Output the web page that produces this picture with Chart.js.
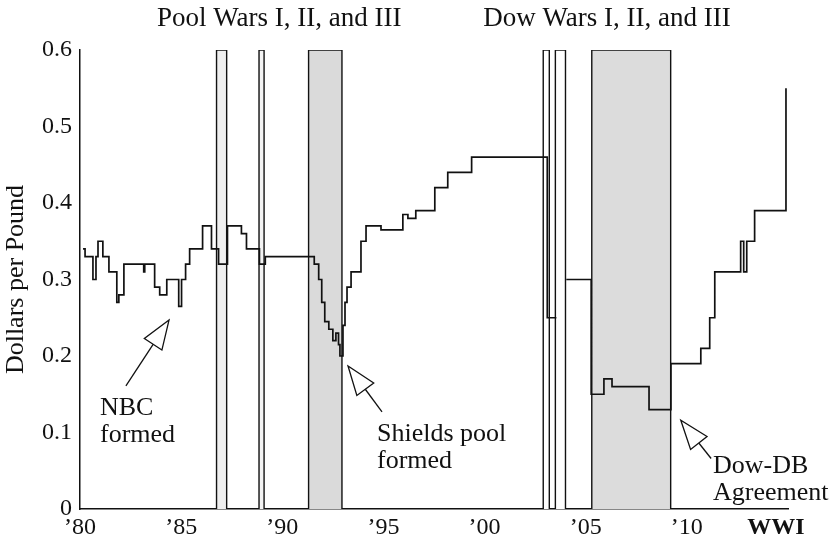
<!DOCTYPE html>
<html>
<head>
<meta charset="utf-8">
<script src="https://cdn.jsdelivr.net/npm/chart.js@4.4.0/dist/chart.umd.min.js"></script>
<style>
  html, body { margin: 0; padding: 0; background: #fff; }
</style>
</head>
<body>
<canvas id="bromine" width="839" height="547"></canvas>
<script>
// bromine price: year the price changed, new price (dollars per pound)
const priceYears = [
    1880.15, 1880.25, 1880.64, 1880.79, 1880.89, 1881.13, 1881.43, 1881.82, 1881.92, 1882.17,
    1883.15, 1883.2, 1883.69, 1883.94, 1884.29, 1884.88, 1885.02, 1885.22, 1885.42, 1886.06,
    1886.5, 1886.85, 1887.29, 1887.98, 1888.23, 1888.87, 1889.16, 1891.58, 1891.8, 1891.95,
    1892.1, 1892.3, 1892.5, 1892.65, 1892.78, 1892.85, 1893.0, 1893.1, 1893.2, 1893.4,
    1893.89, 1894.14, 1894.88, 1895.96, 1896.21, 1896.6, 1897.54, 1898.18, 1899.36, 1903.1,
    1903.55, 1903.56, 1904.04, 1905.27, 1905.9, 1906.3, 1908.13, 1909.21, 1910.69, 1911.13,
    1911.38, 1912.66, 1912.81, 1912.96, 1913.35, 1914.9
];
const priceValues = [
    0.34, 0.33, 0.30, 0.33, 0.35, 0.33, 0.31, 0.27, 0.28, 0.32,
    0.31, 0.32, 0.29, 0.28, 0.30, 0.265, 0.30, 0.32, 0.34, 0.37,
    0.34, 0.32, 0.37, 0.36, 0.34, 0.32, 0.33, 0.32, 0.30, 0.27,
    0.245, 0.235, 0.22, 0.23, 0.215, 0.20, 0.24, 0.27, 0.29, 0.31,
    0.35, 0.37, 0.365, 0.385, 0.38, 0.39, 0.42, 0.44, 0.46, 0.25,
    0.25, null, 0.30, 0.15, 0.17, 0.16, 0.13, 0.19, 0.21, 0.25,
    0.31, 0.35, 0.31, 0.35, 0.39, 0.55
];

// price war periods
const warStart = [1886.75, 1888.85, 1891.3, 1902.9, 1903.5, 1905.3];
const warEnd = [1887.25, 1889.1, 1892.95, 1903.2, 1904.0, 1909.2];
const warTop = 0.6;

const xTickYears = [1880, 1885, 1890, 1895, 1900, 1905, 1910, 1914.4];
const xTickLabels = ['\u201980', '\u201985', '\u201990', '\u201995', '\u201900', '\u201905', '\u201910', 'WWI'];
const yTicks = [0, 0.1, 0.2, 0.3, 0.4, 0.5, 0.6];

const SERIF = "'Liberation Serif', 'DejaVu Serif', serif";
const warFills = ['#efefef', '#f3f3f3', '#dadada', '#ffffff', '#ffffff', '#dcdcdc'];

// boxes for the wars, drawn as filled line datasets
const warSets = warStart.map(function (s, i) {
    return {
        label: 'war' + i,
        data: [
            { x: s, y: 0 }, { x: s, y: warTop },
            { x: warEnd[i], y: warTop }, { x: warEnd[i], y: 0 }
        ],
        fill: 'origin',
        backgroundColor: warFills[i],
        borderColor: '#111',
        borderWidth: 1.4,
        pointRadius: 0,
        tension: 0,
        order: 2,
    };
});

const priceSet = {
    label: 'price',
    data: priceYears.map(function (x, i) { return { x: x, y: priceValues[i] }; }),
    stepped: true,
    spanGaps: false,
    borderColor: '#111',
    borderWidth: 1.7,
    pointRadius: 0,
    fill: false,
    order: 1,
};

// text and arrows: text in pixels, arrows point at data coordinates
const notes = [
    { lines: ['NBC', 'formed'], left: 100, top: 408, tip: [1884.4, 0.247], tail: [1882.27, 0.161] },
    { lines: ['Shields pool', 'formed'], left: 377, top: 434, tip: [1893.25, 0.187], tail: [1894.93, 0.127] },
    { lines: ['Dow-DB', 'Agreement'], left: 713, top: 466, tip: [1909.7, 0.116], tail: [1911.2, 0.066] },
];
const warTitles = [
    { text: 'Pool Wars I, II, and III', from: 0, to: 2 },
    { text: 'Dow Wars I, II, and III', from: 3, to: 5 },
];

function drawArrow(ctx, tx, ty, ex, ey) {
    const len = Math.hypot(ex - tx, ey - ty);
    const ux = (ex - tx) / len, uy = (ey - ty) / len;
    const head = 29, half = 10.5;
    const bx = tx + ux * head, by = ty + uy * head;
    ctx.beginPath();
    ctx.moveTo(bx, by);
    ctx.lineTo(ex, ey);
    ctx.stroke();
    ctx.beginPath();
    ctx.moveTo(tx, ty);
    ctx.lineTo(bx - uy * half, by + ux * half);
    ctx.lineTo(bx + uy * half, by - ux * half);
    ctx.closePath();
    ctx.fillStyle = '#fff';
    ctx.fill();
    ctx.stroke();
}

const notesPlugin = {
    id: 'notes',
    afterDraw: function (chart) {
        const ctx = chart.ctx;
        const xs = chart.scales.x, ys = chart.scales.y;
        ctx.save();
        ctx.fillStyle = '#111';
        ctx.strokeStyle = '#111';
        ctx.lineWidth = 1.3;
        ctx.textBaseline = 'middle';

        // titles over the war groups
        ctx.font = '27px ' + SERIF;
        ctx.textAlign = 'center';
        warTitles.forEach(function (t) {
            const cx = (xs.getPixelForValue(warStart[t.from]) + xs.getPixelForValue(warEnd[t.to])) / 2;
            ctx.fillStyle = '#111';
            ctx.fillText(t.text, cx, 19);
        });

        ctx.font = '26px ' + SERIF;
        ctx.textAlign = 'left';
        notes.forEach(function (n) {
            ctx.fillStyle = '#111';
            n.lines.forEach(function (line, k) {
                ctx.fillText(line, n.left, n.top + k * 27);
            });
            drawArrow(ctx,
                xs.getPixelForValue(n.tip[0]), ys.getPixelForValue(n.tip[1]),
                xs.getPixelForValue(n.tail[0]), ys.getPixelForValue(n.tail[1]));
        });
        ctx.restore();
    }
};

const config = {
    type: 'line',
    data: { datasets: [priceSet].concat(warSets) },
    options: {
        responsive: false,
        animation: false,
        devicePixelRatio: 1,
        layout: { padding: { top: 50, right: 51, left: 0, bottom: 0 } },
        plugins: {
            legend: { display: false },
            tooltip: { enabled: false },
        },
        scales: {
            x: {
                type: 'linear',
                min: 1880,
                max: 1915,
                grid: { display: false, drawTicks: false },
                border: { display: true, color: '#111', width: 1.5 },
                afterBuildTicks: function (scale) {
                    scale.ticks = xTickYears.map(function (v) { return { value: v }; });
                },
                afterFit: function (scale) { scale.height = 38; },
                ticks: {
                    autoSkip: false,
                    maxRotation: 0,
                    padding: 4,
                    color: '#111',
                    font: function (context) {
                        const last = context.tick && context.tick.value > 1912;
                        return { family: SERIF, size: 24, weight: last ? 'bold' : 'normal' };
                    },
                    callback: function (value, index) { return xTickLabels[index]; }
                }
            },
            y: {
                min: 0,
                max: 0.6,
                grid: { display: false, drawTicks: false },
                border: { display: true, color: '#111', width: 1.5 },
                afterBuildTicks: function (scale) {
                    scale.ticks = yTicks.map(function (v) { return { value: v }; });
                },
                afterFit: function (scale) { scale.width = 80; },
                title: {
                    display: true,
                    text: 'Dollars per Pound',
                    color: '#111',
                    padding: { top: 1, bottom: 0 },
                    font: { family: SERIF, size: 26 }
                },
                ticks: {
                    padding: 8,
                    color: '#111',
                    font: { family: SERIF, size: 24 },
                    callback: function (value) { return value === 0 ? '0' : value.toFixed(1); }
                }
            }
        }
    },
    plugins: [notesPlugin]
};

var ctx = document.getElementById('bromine').getContext('2d');
var bromineChart = new Chart(ctx, config);
</script>
</body>
</html>
